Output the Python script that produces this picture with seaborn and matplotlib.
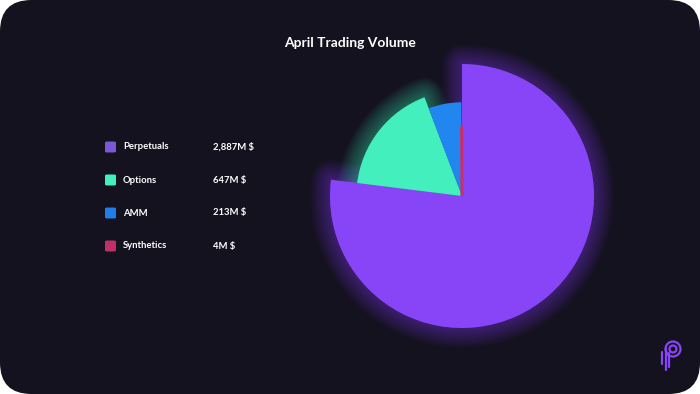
import numpy as np
import seaborn as sns
import matplotlib.pyplot as plt
import matplotlib.patheffects as pe
from matplotlib.patches import FancyBboxPatch, Circle, Wedge

# === data ===
categories = ['Perpetuals', 'Options', 'AMM', 'Synthetics']
volumes = [2887, 647, 213, 4]
value_labels = ['2,887M $', '647M $', '213M $', '4M $']
pie_colors = ['#8745f7', '#43efbd', '#2286f0', '#c8306c']
legend_colors = ['#7a58d8', '#43efbd', '#1f7fe6', '#c03068']
radii = [1.0, 0.80, 0.71, 0.52]
glow_on = [True, True, False, False]

W, H = 700, 394
BG = '#14121f'

sns.set_theme(style='dark')
plt.rcParams['font.family'] = ['Lato', 'DejaVu Sans']

fig = plt.figure(figsize=(7, 3.94), dpi=100)
fig.patch.set_facecolor('white')

# rounded dark card (behind everything)
card = FancyBboxPatch((0, 0), 1, 1, boxstyle='round,pad=0,rounding_size=0.045',
                      transform=fig.transFigure, facecolor=BG, edgecolor='none',
                      mutation_aspect=W / H, zorder=-10)
fig.patches.append(card)

fig.text(0.5, 1 - 43 / H, 'April Trading Volume', color='white', fontsize=10,
         fontweight='bold', ha='center', va='center')

# === pie ===
cx, cy, R = 462, 196, 132
span = 160
ax = fig.add_axes([(cx - span) / W, (H - cy - span) / H, 2 * span / W, 2 * span / H])
ax.patch.set_alpha(0)

wedges, _ = ax.pie(volumes, colors=pie_colors, startangle=90, counterclock=False,
                   wedgeprops=dict(linewidth=0))
for w, r, c, g in zip(wedges, radii, pie_colors, glow_on):
    w.set_radius(r)
    w.set_zorder(2)
    if g:
        # soft glow behind all slices
        halo = Wedge(w.center, r, w.theta1, w.theta2, facecolor=c, edgecolor=c,
                     zorder=0.5)
        halo.set_path_effects([pe.Stroke(linewidth=lw, foreground=c, alpha=0.04,
                                         joinstyle='round')
                               for lw in np.arange(28, 1, -2.5)])
        ax.add_patch(halo)

# the tiny synthetics slice gets a thin outline so it stays visible
wedges[-1].set_edgecolor(pie_colors[-1])
wedges[-1].set_linewidth(1.8)

lim = span / R
ax.set_xlim(-lim, lim)
ax.set_ylim(-lim, lim)
ax.set_aspect('equal')
ax.axis('off')

# === legend ===
rows_y = [147, 180, 213, 246]
for name, val, col, y in zip(categories, value_labels, legend_colors, rows_y):
    sq = FancyBboxPatch((105 / W, 1 - (y + 5.5) / H), 11 / W, 11 / H,
                        boxstyle='round,pad=0,rounding_size=0.003',
                        transform=fig.transFigure, facecolor=col, edgecolor='none')
    fig.patches.append(sq)
    fig.text(123 / W, 1 - y / H, name, color='white', fontsize=6.8,
             fontweight='bold', va='center', ha='left')
    fig.text(213 / W, 1 - y / H, val, color='white', fontsize=6.8,
             fontweight='bold', va='center', ha='left')

# === logo ===
lax = fig.add_axes([655 / W, 1 - 375 / H, 36 / W, 40 / H])
lax.patch.set_alpha(0)
lax.set_xlim(0, 36)
lax.set_ylim(0, 40)
lax.set_aspect('equal')
lax.axis('off')
logo = '#8745f7'
lax.add_patch(Circle((18, 26), 7.5, fill=False, ec=logo, lw=1.6))
lax.add_patch(Circle((18, 26), 3.5, fill=False, ec=logo, lw=1.6))
for x, y0, y1 in [(10.5, 5, 26), (14, 8, 22), (7, 11, 23)]:
    lax.plot([x, x], [y0, y1], color=logo, lw=1.6, solid_capstyle='round')

fig.savefig('out.png', dpi=100, facecolor='white')
